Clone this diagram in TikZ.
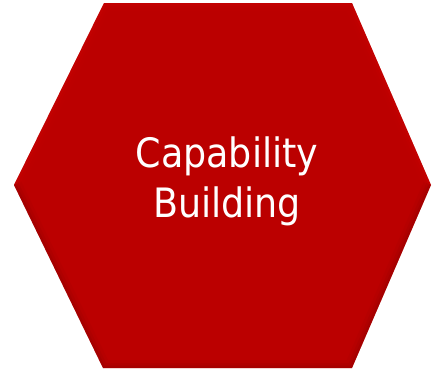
\documentclass[tikz,border=0pt]{standalone}
\usepackage{fontspec}
\newfontfamily\labelfont{DejaVu Sans Condensed}
\definecolor{hexfill}{RGB}{187,0,0}
\definecolor{hexlight}{RGB}{210,8,8}
\definecolor{hexdark}{RGB}{130,0,0}
\begin{document}
\begin{tikzpicture}[x=1pt,y=-1pt,
  hexlabel/.style={text=white,align=center,font=\labelfont\fontsize{40.5}{50}\selectfont}]
\useasboundingbox (0,0) rectangle (432,370);
% hexagon corners
\coordinate (tl) at (104,3);
\coordinate (tr) at (352,3);
\coordinate (r)  at (431,185);
\coordinate (br) at (352,368);
\coordinate (bl) at (103,368);
\coordinate (l)  at (14,185);
\fill[hexfill] (tl) -- (tr) -- (r) -- (br) -- (bl) -- (l) -- cycle;
% soft bevel along the edges
\begin{scope}
  \clip (tl) -- (tr) -- (r) -- (br) -- (bl) -- (l) -- cycle;
  \foreach \w/\o in {16/0.08,10/0.12,5/0.2} {
    \draw[hexlight,line width=\w,opacity=\o] (l) -- (tl) -- (tr) -- (r);
    \draw[hexdark,line width=\w,opacity=\o] (r) -- (br) -- (bl) -- (l);
  }
\end{scope}
\node[hexlabel] (lbl) at (227,181) {Capability\\Building};
\end{tikzpicture}
\end{document}
